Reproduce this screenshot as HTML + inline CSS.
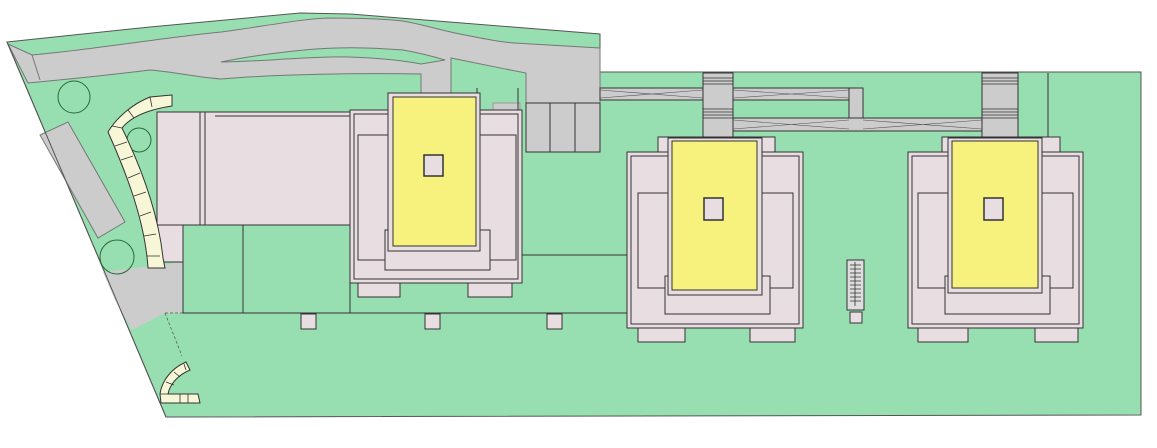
<!DOCTYPE html>
<html><head><meta charset="utf-8"><style>html,body{margin:0;padding:0;background:#fff}svg{display:block}</style></head>
<body>
<svg width="1157" height="448" viewBox="0 0 1157 448" xmlns="http://www.w3.org/2000/svg">
<g stroke="#333" stroke-width="1">
<!-- site -->
<polygon points="7,42 150,27 300,13 350,14 600,34 600,72 1141,72 1141,415 166,417" fill="#97dfb0" stroke="#555"/>
<!-- road -->
<path d="M8,44 L32,55 C90,50 160,38 221,32 C260,27 300,19 328,18 C360,18 385,19 403,21 C425,25 440,30 455,33 C480,38 500,42 514,43 L600,48 L600,103 L526,103 L526,73 C500,68 470,62 451,58 L451,93 L421,93 L421,74 C360,73 280,74 221,79 C195,77 175,72 150,70 C110,75 60,80 28,83 Z" fill="#cccccd" stroke="#777"/>
<path d="M221,62 C250,56 300,49 336,48 C365,47 390,49 403,50 C420,53 435,57 445,60 L421,64 C400,60 360,56 330,57 C290,58 250,62 221,62 Z" fill="#97dfb0" stroke="#777"/>
<path d="M32,55 L40,80" stroke="#777"/>
<polygon points="40,135 68,122 125,222 98,238" fill="#cccccd" stroke="#777"/>
<polygon points="103,272 183,262 183,313 165,313 132,330 115,300" fill="#cccccd" stroke="none"/>
<path d="M165,313 L183,313 M165,313 L182,356" stroke="#555" stroke-dasharray="3,2" stroke-width="0.7"/>
<path d="M7,42 L166,417" stroke="#555" fill="none"/>
<!-- bridges -->
<rect x="600" y="88" width="103" height="12" fill="#ccc"/>
<rect x="733" y="88" width="116" height="12" fill="#ccc"/>
<rect x="849" y="88" width="14" height="43" fill="#ccc"/>
<rect x="733" y="118" width="249" height="13" fill="#ccc"/>
<path d="M600,90 L703,98 M600,98 L703,90 M733,90 L849,98 M733,98 L849,90 M733,120 L849,129 M733,129 L849,120 M863,120 L982,129 M863,129 L982,120" stroke="#555" stroke-width="0.6"/>
<!-- parking -->
<rect x="526" y="103" width="74" height="49" fill="#ccc"/>
<path d="M550,103 V152 M575,103 V152" />
<rect x="493" y="103" width="27" height="55" fill="#ccc" stroke="#999"/>
<line x1="477" y1="88" x2="477" y2="110"/><line x1="518" y1="88" x2="518" y2="110"/>
<!-- left building -->
<rect x="157" y="112" width="193" height="113" fill="#e8dee2"/>
<rect x="157" y="225" width="26" height="37" fill="#e8dee2"/>
<rect x="183" y="225" width="60" height="88" fill="#97dfb0"/>
<rect x="243" y="225" width="107" height="88" fill="#97dfb0"/>
<line x1="200" y1="112" x2="200" y2="225"/><line x1="205" y1="112" x2="205" y2="225"/>
<line x1="215" y1="116" x2="350" y2="116"/>
<line x1="183" y1="313" x2="630" y2="313"/>
<line x1="350" y1="255" x2="630" y2="255"/>
<rect x="301" y="314" width="15" height="15" fill="#e8dee2"/>
<rect x="425" y="314" width="15" height="15" fill="#e8dee2"/>
<rect x="547" y="314" width="15" height="15" fill="#e8dee2"/>
<!-- tower 1 -->
<rect x="358" y="283" width="42" height="14" fill="#e8dee2"/>
<rect x="468" y="283" width="44" height="14" fill="#e8dee2"/>
<rect x="350" y="110" width="172" height="173" fill="#e8dee2"/>
<rect x="354" y="114" width="164" height="165" fill="none"/>
<rect x="358" y="135" width="158" height="125" fill="#e8dee2"/>
<rect x="385" y="230" width="105" height="40" fill="#e8dee2"/>
<rect x="388" y="93" width="92" height="158" fill="#e8dee2"/>
<rect x="393" y="97" width="83" height="149" fill="#f7f17d"/>
<rect x="424" y="155" width="19" height="21" fill="#e8dee2" stroke-width="1.5"/>
<!-- tower 2 -->
<rect x="703" y="73" width="30" height="66" fill="#ccc"/>
<path d="M703,78H733M703,81H733M703,84H733M703,109H733M703,112H733M703,115H733M703,118H733" stroke-width="0.8"/>
<rect x="638" y="328" width="47" height="14" fill="#e8dee2"/>
<rect x="750" y="328" width="45" height="14" fill="#e8dee2"/>
<rect x="658" y="137" width="117" height="20" fill="#e8dee2"/>
<rect x="627" y="152" width="176" height="176" fill="#e8dee2"/>
<rect x="631" y="156" width="168" height="168" fill="none"/>
<rect x="638" y="193" width="155" height="95" fill="#e8dee2"/>
<rect x="665" y="276" width="105" height="38" fill="#e8dee2"/>
<rect x="668" y="138" width="94" height="157" fill="#e8dee2"/>
<rect x="672" y="141" width="85" height="149" fill="#f7f17d"/>
<rect x="704" y="198" width="19" height="22" fill="#e8dee2" stroke-width="1.5"/>
<!-- tower 3 -->
<rect x="982" y="73" width="36" height="66" fill="#ccc"/>
<path d="M982,78H1018M982,81H1018M982,84H1018M982,109H1018M982,112H1018M982,115H1018M982,118H1018" stroke-width="0.8"/>
<line x1="1048" y1="73" x2="1048" y2="137"/>
<rect x="918" y="328" width="50" height="14" fill="#e8dee2"/>
<rect x="1035" y="328" width="43" height="14" fill="#e8dee2"/>
<rect x="942" y="137" width="118" height="20" fill="#e8dee2"/>
<rect x="908" y="152" width="175" height="176" fill="#e8dee2"/>
<rect x="912" y="156" width="167" height="168" fill="none"/>
<rect x="918" y="193" width="155" height="95" fill="#e8dee2"/>
<rect x="945" y="276" width="105" height="38" fill="#e8dee2"/>
<rect x="948" y="138" width="94" height="155" fill="#e8dee2"/>
<rect x="952" y="141" width="86" height="147" fill="#f7f17d"/>
<rect x="984" y="198" width="19" height="22" fill="#e8dee2" stroke-width="1.5"/>
<!-- escalator -->
<rect x="847" y="260" width="17" height="50" fill="#ddd"/>
<path d="M850,265H861M850,269H861M850,273H861M850,277H861M850,281H861M850,285H861M850,289H861M850,293H861M850,297H861M850,301H861M855,262V306" stroke-width="0.8"/>
<rect x="850" y="312" width="12" height="11" fill="#e8dee2"/>
<!-- trees -->
<circle cx="74" cy="97" r="16" fill="none" stroke="#2a6a3a"/>
<circle cx="139" cy="140" r="12" fill="none" stroke="#2a6a3a"/>
<circle cx="117" cy="257" r="17" fill="none" stroke="#2a6a3a"/>
<!-- paving arcs -->
<path d="M172,95 L150,97 C130,105 115,120 108,132 C125,170 145,220 148,268 L165,268 L163,258 C158,210 140,165 122,128 C130,118 145,110 172,106 Z" fill="#f7f7d8"/>
<path d="M150,97 L152,107 M128,110 L134,118 M112,126 L122,128 M115,146 L127,142 M121,160 L133,156 M128,178 L140,173 M134,196 L146,192 M140,216 L151,212 M144,236 L156,234 M147,256 L160,256" stroke-width="0.8"/>
<path d="M186,362 C172,368 162,380 160,394 L161,403 L200,403 L198,394 L168,394 C170,384 178,375 190,370 Z" fill="#f7f7d8"/>
<path d="M168,394 L160,394 M180,394 L180,403 M188,394 L188,403 M166,382 L174,385 M174,372 L180,377 M184,364 L186,370" stroke-width="0.8"/>
</g>
</svg>
</body></html>
